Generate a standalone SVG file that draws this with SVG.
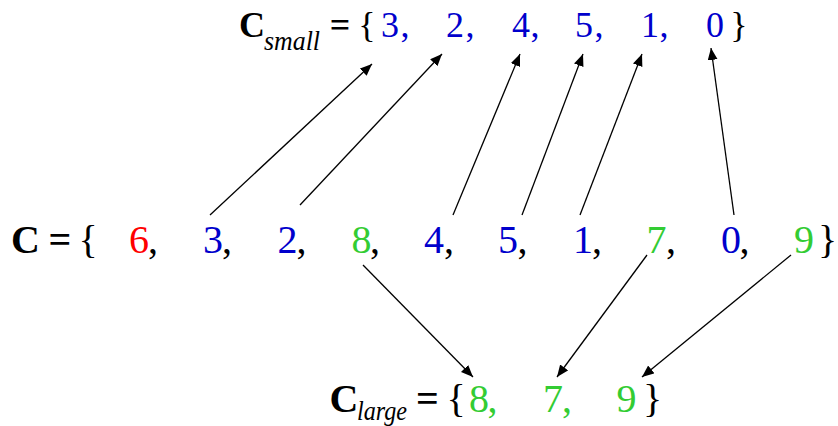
<svg xmlns="http://www.w3.org/2000/svg" width="838" height="426" viewBox="0 0 838 426" font-family="'Liberation Serif', 'DejaVu Serif', serif">
<defs>
<style>
text{text-anchor:middle}
.t{font-size:36px}
.m{font-size:40px}
.b{font-size:40px}
.bold{font-weight:bold}
.sub{font-style:italic;text-anchor:start}
.k{fill:#000}
.bl{fill:#0000cc}
.r{fill:#ff0000}
.g{fill:#33cc33}
.arrow{stroke:#000;stroke-width:1.3;fill:none;marker-end:url(#ah)}
</style>
<marker id="ah" markerUnits="userSpaceOnUse" markerWidth="14" markerHeight="12" refX="12" refY="5" orient="auto">
<path d="M0,0 L12,5 L0,10 z" fill="#000"/>
</marker>
</defs>
<rect width="838" height="426" fill="#fff"/>

<g id="c-small" class="t">
<text class="k bold" x="252" y="37">C</text>
<text class="k sub" x="264" y="50" font-size="28" textLength="56" lengthAdjust="spacingAndGlyphs">small</text>
<text class="k bold" x="340" y="37">=</text>
<text class="k" x="367" y="37">{</text>
<text class="bl" x="390" y="37">3</text><text class="bl" x="405" y="37">,</text>
<text class="bl" x="455" y="37">2</text><text class="bl" x="470" y="37">,</text>
<text class="bl" x="521" y="37">4</text><text class="bl" x="535" y="37">,</text>
<text class="bl" x="584" y="37">5</text><text class="bl" x="599" y="37">,</text>
<text class="bl" x="650" y="37">1</text><text class="bl" x="664" y="37">,</text>
<text class="bl" x="715" y="37">0</text>
<text class="k" x="739" y="37">}</text>
</g>

<g id="c-main" class="m">
<text class="k bold" x="25.5" y="253">C</text>
<text class="k bold" x="60" y="253">=</text>
<text class="k" x="88" y="253">{</text>
<text class="r" x="139" y="253">6</text><text class="k" x="153" y="253">,</text>
<text class="bl" x="213" y="253">3</text><text class="k" x="227" y="253">,</text>
<text class="bl" x="287.5" y="253">2</text><text class="k" x="301.5" y="253">,</text>
<text class="g" x="361.5" y="253">8</text><text class="k" x="375" y="253">,</text>
<text class="bl" x="434" y="253">4</text><text class="k" x="449" y="253">,</text>
<text class="bl" x="508" y="253">5</text><text class="k" x="522.5" y="253">,</text>
<text class="bl" x="583" y="253">1</text><text class="k" x="597" y="253">,</text>
<text class="g" x="656.5" y="253">7</text><text class="k" x="671" y="253">,</text>
<text class="bl" x="731" y="253">0</text><text class="k" x="744.5" y="253">,</text>
<text class="g" x="804" y="253">9</text>
<text class="k" x="827.5" y="253">}</text>
</g>

<g id="c-large" class="b">
<text class="k bold" x="344" y="412">C</text>
<text class="k sub" x="357" y="420" font-size="28" textLength="50" lengthAdjust="spacingAndGlyphs">large</text>
<text class="k bold" x="427.5" y="412">=</text>
<text class="k" x="456" y="412">{</text>
<text class="g" x="479" y="412">8</text><text class="g" x="492.5" y="412">,</text>
<text class="g" x="553" y="412">7</text><text class="g" x="567" y="412">,</text>
<text class="g" x="626.5" y="412">9</text>
<text class="k" x="652.5" y="412">}</text>
</g>

<g id="connectors">
<line class="arrow" x1="210" y1="215" x2="372" y2="64"/>
<line class="arrow" x1="300" y1="205" x2="442" y2="54"/>
<line class="arrow" x1="453" y1="215" x2="520" y2="54"/>
<line class="arrow" x1="522" y1="215" x2="583" y2="54"/>
<line class="arrow" x1="580" y1="215" x2="642" y2="54"/>
<line class="arrow" x1="734" y1="215" x2="711" y2="48"/>
<line class="arrow" x1="363" y1="265" x2="473" y2="377"/>
<line class="arrow" x1="647" y1="255" x2="557" y2="377"/>
<line class="arrow" x1="791" y1="255" x2="642" y2="377"/>
</g>
</svg>
